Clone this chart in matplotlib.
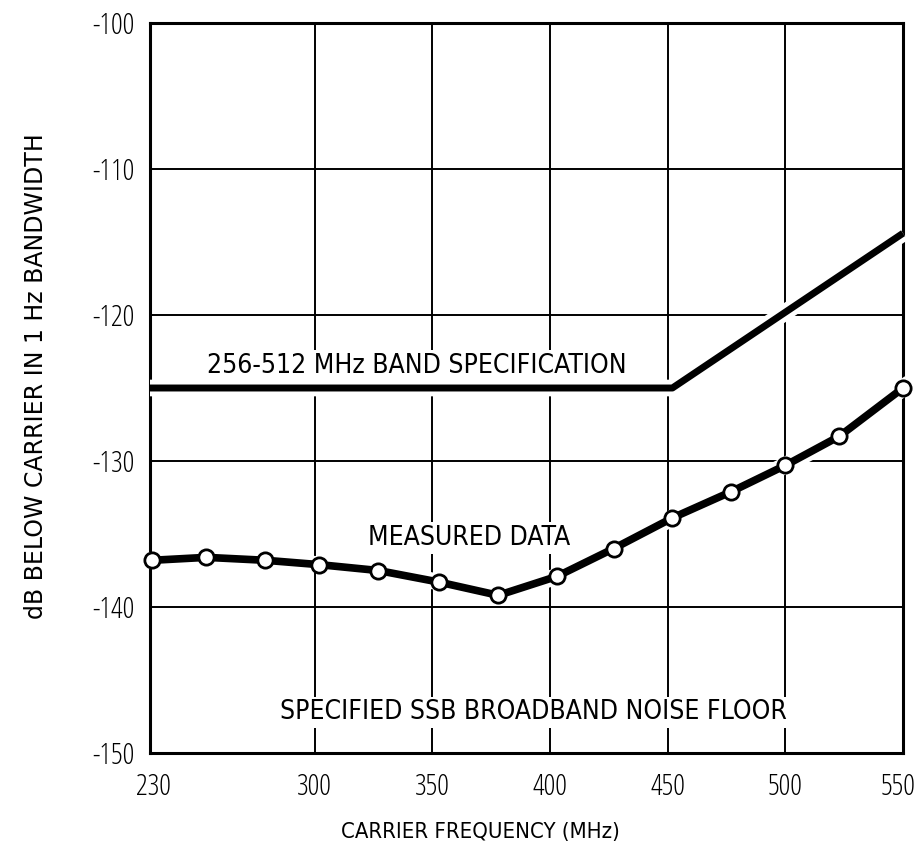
import matplotlib
matplotlib.use('Agg')
import matplotlib.pyplot as plt
import matplotlib.patheffects as pe
from matplotlib.transforms import ScaledTranslation

# ---- data ----
freq_measured = [231, 254, 279, 302, 327, 353, 378, 403, 427, 452, 477, 500, 523, 550]
noise_measured = [-136.8, -136.6, -136.8, -137.1, -137.5, -138.3, -139.2,
                  -137.9, -136.0, -133.9, -132.1, -130.3, -128.3, -125.0]
spec_freq = [230, 452, 550]
spec_level = [-125.0, -125.0, -114.4]

x_ticks = [230, 300, 350, 400, 450, 500, 550]
x_tick_labels = ['230', '300', '350', '400', '450', '500', '550']
y_ticks = [-100, -110, -120, -130, -140, -150]
y_tick_labels = ['-100', '-110', '-120', '-130', '-140', '-150']

spec_label = '256-512 MHz BAND SPECIFICATION'
measured_label = 'MEASURED DATA'
floor_label = 'SPECIFIED SSB BROADBAND NOISE FLOOR'
x_label = 'CARRIER FREQUENCY (MHz)'
y_label = 'dB BELOW CARRIER IN 1 Hz BANDWIDTH'

plt.rcParams['font.family'] = ['DejaVu Sans']
COND = dict(family='DejaVu Sans', fontstretch='condensed')
TICKF = dict(family='Open Sans', fontstretch='condensed')

fig = plt.figure(figsize=(9.18, 8.48), dpi=100)
ax = fig.add_axes([150/918, 1-753/848, (903-150)/918, (753-23)/848])

ax.set_xlim(230, 550)
ax.set_ylim(-150, -100)
ax.set_xticks(x_ticks)
ax.set_xticklabels(x_tick_labels, fontsize=21, **TICKF)
ax.set_yticks(y_ticks)
ax.set_yticklabels(y_tick_labels, fontsize=21, **TICKF)
ax.tick_params(length=0)
ax.tick_params(axis='y', pad=11)
ax.tick_params(axis='x', pad=14)
ax.grid(True, color='black', linewidth=1.4, zorder=1)
ax.set_axisbelow(True)
for s in ax.spines.values():
    s.set_linewidth(2.2)
    s.set_color('black')

# nudge first and last x tick labels as in the reference
xl = ax.get_xticklabels()
xl[0].set_transform(xl[0].get_transform() + ScaledTranslation(3/100, 0, fig.dpi_scale_trans))
xl[-1].set_transform(xl[-1].get_transform() + ScaledTranslation(-5/100, 0, fig.dpi_scale_trans))

halo = [pe.Stroke(linewidth=12, foreground='white'), pe.Normal()]
ax.plot(spec_freq, spec_level, color='black', linewidth=5,
        solid_capstyle='butt', path_effects=halo, zorder=3, clip_on=False)
ax.plot(freq_measured, noise_measured, color='black', linewidth=5.5,
        path_effects=[pe.Stroke(linewidth=12, foreground='white'), pe.Normal()],
        zorder=4, clip_on=False)
ax.plot(freq_measured, noise_measured, linestyle='none',
        marker='o', markersize=11, markerfacecolor='white',
        markeredgecolor='black', markeredgewidth=2.0,
        zorder=5, clip_on=False)

box = dict(facecolor='white', edgecolor='none', pad=2)
ax.text(254.3, -124.0, spec_label, fontsize=19, ha='left', va='baseline',
        bbox=box, zorder=2, **COND)
ax.text(322.8, -135.75, measured_label, fontsize=19, ha='left', va='baseline',
        bbox=box, zorder=2, **COND)
ax.text(285.3, -147.7, floor_label, fontsize=19, ha='left', va='baseline',
        bbox=box, zorder=2, **COND)

fig.text(480/918, 1-832/848, x_label, fontsize=15.8, ha='center', va='center', **COND)
fig.text(36/918, 1-376/848, y_label, fontsize=17, ha='center', va='center',
         rotation=90, family='DejaVu Sans')

fig.savefig('out.png', dpi=100, facecolor='white')
